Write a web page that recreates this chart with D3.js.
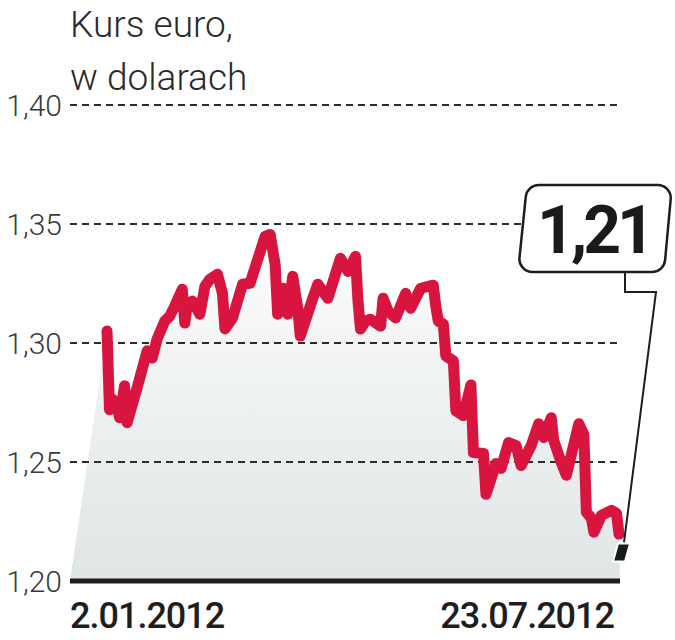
<!DOCTYPE html>
<html>
<head>
<meta charset="utf-8">
<script src="https://cdn.jsdelivr.net/npm/d3@7"></script>
<style>
  body { margin: 0; background: #fff; }
  text { font-family: Roboto, "Noto Sans", sans-serif; }
</style>
</head>
<body>
<script>
// EUR/USD, day offsets from 2.01.2012
var days = [0, 1, 2, 4, 5, 7, 8, 12, 16, 18, 20, 23, 25, 27, 30, 31, 32, 34, 37, 39, 41, 44, 46, 47,
  50, 54, 57, 63, 65, 67, 68, 70, 72, 74, 76, 77,
  82, 84, 88, 93, 96, 99, 100, 101, 103, 105, 109, 110, 112, 115, 119, 121, 125, 130, 131, 132, 134, 135, 138, 139, 142, 145, 146,
  150, 151, 155, 157, 160, 163, 165, 169, 172, 174, 177, 178, 181, 183, 188, 190, 191, 193, 194, 197, 201, 203, 204];
var rates = [1.305, 1.272, 1.2766, 1.274, 1.2686, 1.282, 1.2665,
  1.2812, 1.2967, 1.2937, 1.3017, 1.3092, 1.3113, 1.3155, 1.3226, 1.3084, 1.3163, 1.3176, 1.3121, 1.3238, 1.3268, 1.3289, 1.3209, 1.3059,
  1.3105, 1.3247, 1.3251, 1.3448, 1.3456, 1.333, 1.3121, 1.323, 1.3121, 1.328, 1.3146, 1.3029,
  1.3188, 1.3247, 1.3188, 1.3356, 1.3301, 1.3364, 1.3176, 1.3059, 1.3092, 1.31, 1.3071, 1.3188, 1.3134, 1.3105, 1.3209, 1.3146, 1.323, 1.3243, 1.3155, 1.3092, 1.308, 1.2946, 1.2925, 1.2715, 1.2695, 1.2824, 1.254,
  1.2536, 1.2364, 1.2494, 1.2473, 1.2582, 1.2569, 1.2485, 1.2569, 1.2661, 1.2603, 1.2686, 1.259, 1.2498, 1.2444, 1.2661, 1.2615, 1.2289, 1.2264, 1.2205, 1.2276, 1.2297, 1.2285, 1.2197];
var yTicks = [1.20, 1.25, 1.30, 1.35, 1.40];
var dateLabels = ['2.01.2012', '23.07.2012'];
var lastRate = 1.212;
var lastLabel = '1,21';
var title = ['Kurs euro,', 'w dolarach'];

var width = 675,
    height = 640,
    left = 70,
    right = 620;

var data = days.map(function(d, i){ return {day: d, v: rates[i]}; });

var svg = d3.select('body').append('svg')
    .attr('width', width)
    .attr('height', height);

var x = d3.scaleLinear().domain([0, 204]).range([107, 619]);
var y = d3.scaleLinear().domain([1.20, 1.40]).range([581, 105]);

// gradient fill under the line
var grad = svg.append('defs').append('linearGradient')
    .attr('id', 'fill')
    .attr('gradientUnits', 'userSpaceOnUse')
    .attr('x1', 0).attr('y1', y(1.36))
    .attr('x2', 0).attr('y2', y(1.20));
grad.append('stop').attr('offset', 0).attr('stop-color', '#ffffff');
grad.append('stop').attr('offset', 1).attr('stop-color', '#e0e5e5');

var pts = [[left, y(1.20)]]
    .concat(data.map(function(d){ return [x(d.day), y(d.v)]; }))
    .concat([[x(204) + 1, y(1.20)]]);

svg.append('path')
    .attr('d', d3.line()(pts) + 'Z')
    .style('fill', 'url(#fill)');

// grid
var fmt = function(t){ return d3.format('.2f')(t).replace('.', ','); };

svg.selectAll('.grid')
    .data(yTicks.slice(1))
    .enter().append('line')
    .attr('x1', left).attr('x2', right)
    .attr('y1', function(d){ return y(d); })
    .attr('y2', function(d){ return y(d); })
    .style('stroke', '#2b2b2b')
    .style('stroke-width', 2)
    .style('stroke-dasharray', '7,5');

svg.selectAll('.ylab')
    .data(yTicks)
    .enter().append('text')
    .attr('x', 62)
    .attr('y', function(d){ return y(d) + 11; })
    .attr('text-anchor', 'end')
    .style('font-size', '30px')
    .style('font-weight', 300)
    .style('fill', '#3a3a3a')
    .text(fmt);

svg.append('line')
    .attr('x1', left).attr('x2', right)
    .attr('y1', y(1.20)).attr('y2', y(1.20))
    .style('stroke', '#1e1e1e')
    .style('stroke-width', 5);

// the rate
svg.append('path')
    .datum(data)
    .attr('d', d3.line().x(function(d){ return x(d.day); }).y(function(d){ return y(d.v); }))
    .style('fill', 'none')
    .style('stroke', '#d7153e')
    .style('stroke-width', 11)
    .style('stroke-linejoin', 'round')
    .style('stroke-linecap', 'round');

// last value marker
var mx = x(204) + 1, my = y(lastRate);
svg.append('polygon')
    .attr('points', [[mx - 2, my - 9], [mx + 10, my - 9], [mx + 5, my + 9], [mx - 7, my + 9]].join(' '))
    .style('fill', '#1a1a1a')
    .style('stroke', '#fff')
    .style('stroke-width', 2);

// callout
svg.append('polyline')
    .attr('points', [[625, 272], [625, 292], [656, 292], [mx + 4, my - 10]].join(' '))
    .style('fill', 'none')
    .style('stroke', '#1e1e1e')
    .style('stroke-width', 2);

var box = [[527, 185], [672, 185], [664, 272], [518, 272]], r = 13;
var p = d3.path();
p.moveTo((box[0][0] + box[1][0]) / 2, box[0][1]);
for (var i = 1; i <= 4; i++) {
  var a = box[i % 4], b = box[(i + 1) % 4];
  p.arcTo(a[0], a[1], b[0], b[1], r);
}
p.closePath();
svg.append('path')
    .attr('d', p.toString())
    .style('fill', '#fff')
    .style('stroke', '#1e1e1e')
    .style('stroke-width', 2.5);

svg.append('text')
    .attr('x', 594).attr('y', 253)
    .attr('text-anchor', 'middle')
    .style('font-size', '66px')
    .style('font-weight', 'bold')
    .style('letter-spacing', '-4px')
    .style('fill', '#1a1a1a')
    .text(lastLabel);

// titles
svg.selectAll('.title')
    .data(title)
    .enter().append('text')
    .attr('x', 70)
    .attr('y', function(d, i){ return 37 + i * 53; })
    .style('font-size', '37px')
    .style('font-weight', 300)
    .style('fill', '#2a2a2a')
    .text(function(d){ return d; });

// date labels
svg.selectAll('.date')
    .data(dateLabels)
    .enter().append('text')
    .attr('x', function(d, i){ return i ? 614 : 70; })
    .attr('y', 628)
    .attr('text-anchor', function(d, i){ return i ? 'end' : 'start'; })
    .style('font-size', '36px')
    .style('font-weight', 500)
    .style('letter-spacing', '-1px')
    .style('fill', '#1e1e1e')
    .text(function(d){ return d; });
</script>
</body>
</html>
